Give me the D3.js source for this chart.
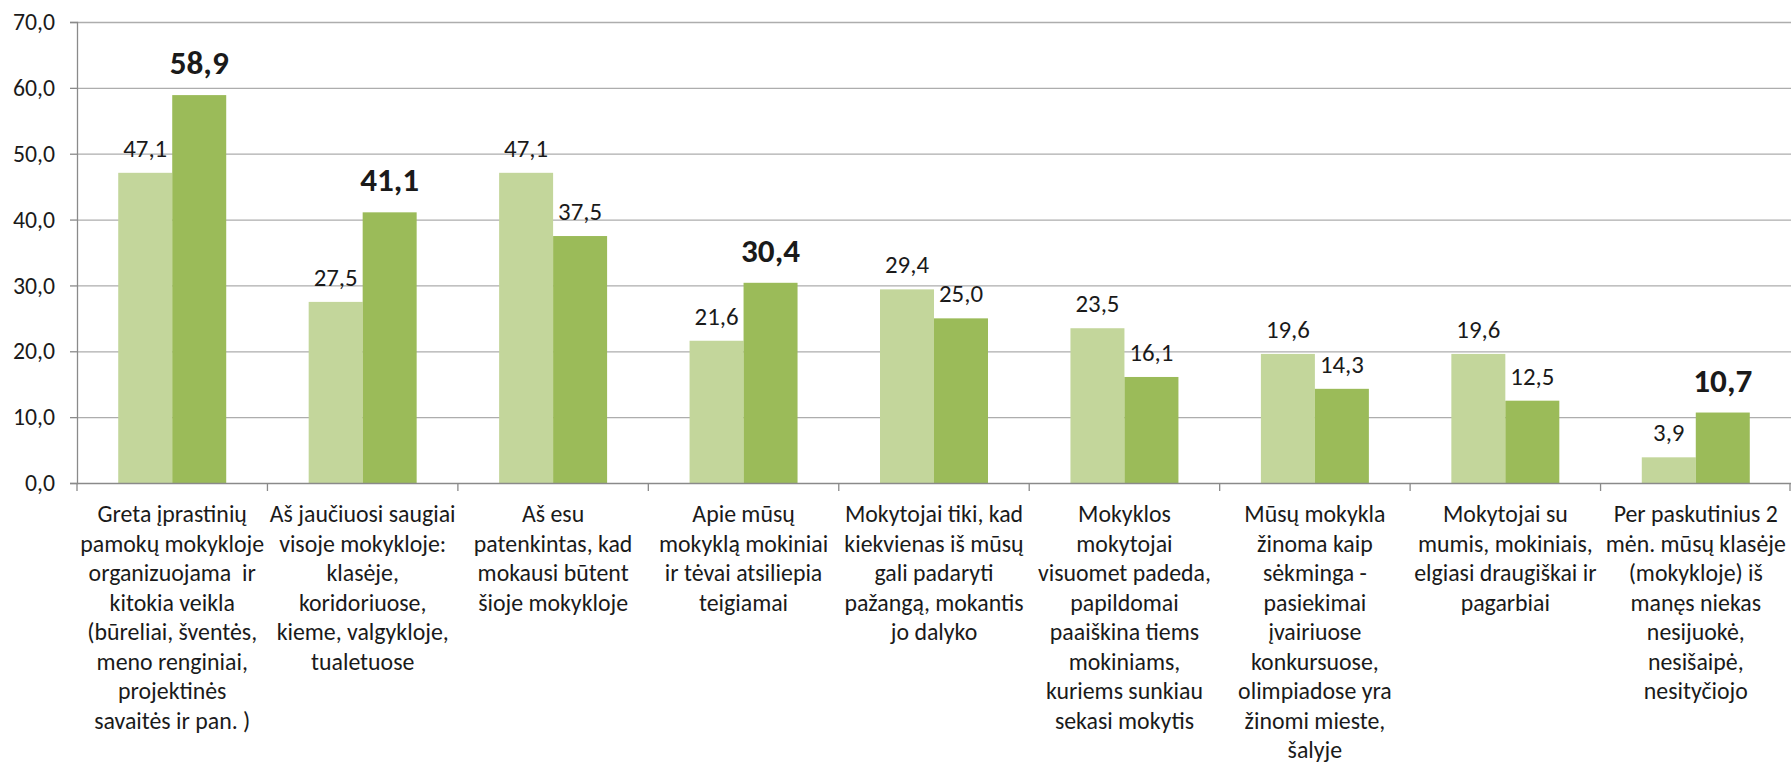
<!DOCTYPE html>
<html>
<head>
<meta charset="utf-8">
<script src="https://cdn.jsdelivr.net/npm/d3@7"></script>
<style>
  body { margin: 0; background: #fff; }
  text { font-family: Carlito, Calibri, Lato, sans-serif; fill: #1a1a1a; white-space: pre; }
</style>
</head>
<body>
<div id="chart"></div>
<script>
// categories, one entry per line of the wrapped axis label
var categories = [
    ["Greta įprastinių", "pamokų mokykloje", "organizuojama  ir", "kitokia veikla", "(būreliai, šventės,", "meno renginiai,", "projektinės", "savaitės ir pan. )"],
    ["Aš jaučiuosi saugiai", "visoje mokykloje:", "klasėje,", "koridoriuose,", "kieme, valgykloje,", "tualetuose"],
    ["Aš esu", "patenkintas, kad", "mokausi būtent", "šioje mokykloje"],
    ["Apie mūsų", "mokyklą mokiniai", "ir tėvai atsiliepia", "teigiamai"],
    ["Mokytojai tiki, kad", "kiekvienas iš mūsų", "gali padaryti", "pažangą, mokantis", "jo dalyko"],
    ["Mokyklos", "mokytojai", "visuomet padeda,", "papildomai", "paaiškina tiems", "mokiniams,", "kuriems sunkiau", "sekasi mokytis"],
    ["Mūsų mokykla", "žinoma kaip", "sėkminga -", "pasiekimai", "įvairiuose", "konkursuose,", "olimpiadose yra", "žinomi mieste,", "šalyje"],
    ["Mokytojai su", "mumis, mokiniais,", "elgiasi draugiškai ir", "pagarbiai"],
    ["Per paskutinius 2", "mėn. mūsų klasėje", "(mokykloje) iš", "manęs niekas", "nesijuokė,", "nesišaipė,", "nesityčiojo"]
];
var seriesA = [47.1, 27.5, 47.1, 21.6, 29.4, 23.5, 19.6, 19.6, 3.9];
var seriesB = [58.9, 41.1, 37.5, 30.4, 25.0, 16.1, 14.3, 12.5, 10.7];
var yTicks = [0, 10, 20, 30, 40, 50, 60, 70];

var colors = ["#c3d69b", "#9bbb59"];

var W = 1792, H = 764;
var margin = {top: 22, right: 1, bottom: 281, left: 77},
    width = W - margin.left - margin.right,
    height = H - margin.top - margin.bottom;

var fmt = function (v) { return v.toFixed(1).replace(".", ","); };

var root = d3.select("#chart")
    .append("svg")
    .attr("width", W)
    .attr("height", H);

// pick a font size so a sample string gets the width it has in the picture
function fitSize(sample, target, weight) {
    var t = root.append("text")
        .style("font-size", "100px")
        .style("font-weight", weight)
        .text(sample);
    var w = t.node().getComputedTextLength();
    t.remove();
    return 100 * target / w;
}
var labelSize = fitSize("pamokų mokykloje", 184, "normal");
var valueSize = fitSize("47,1", 44, "normal");
var boldSize = fitSize("58,9", 59, "bold");
var tickSize = fitSize("70,0", 42, "normal");

var svg = root.append("g")
    .attr("transform", "translate(" + margin.left + "," + margin.top + ")");

var x = d3.scaleBand()
    .domain(d3.range(categories.length))
    .range([0, width])
    .paddingInner(0.433)
    .paddingOuter(0.2165);

var xSub = d3.scaleBand()
    .domain([0, 1])
    .range([0, x.bandwidth()]);

var y = d3.scaleLinear()
    .domain([0, 70])
    .range([height, 0]);

// gridlines
svg.append("g")
    .selectAll("line")
    .data(yTicks.slice(1))
    .enter()
    .append("line")
    .attr("x1", 0)
    .attr("x2", width)
    .attr("y1", function (d) { return y(d) + 0.5; })
    .attr("y2", function (d) { return y(d) + 0.5; })
    .attr("stroke", "#adadad")
    .attr("stroke-width", 1.3);

// Y axis
var yAxis = svg.append("g")
    .call(d3.axisLeft(y).tickValues(yTicks).tickSize(7).tickPadding(15).tickFormat(fmt));
yAxis.selectAll("text").style("font-size", tickSize + "px");
yAxis.selectAll("line,path").attr("stroke", "#8a8a8a").attr("stroke-width", 1.3);

// bars
var groups = svg.selectAll(".cat")
    .data(categories.map(function (c, i) { return [seriesA[i], seriesB[i]]; }))
    .enter()
    .append("g")
    .attr("class", "cat")
    .attr("transform", function (d, i) { return "translate(" + x(i) + ",0)"; });

groups.selectAll("rect")
    .data(function (d) { return d; })
    .enter()
    .append("rect")
    .attr("x", function (d, j) { return xSub(j); })
    .attr("y", function (d) { return y(d); })
    .attr("width", xSub.bandwidth())
    .attr("height", function (d) { return height - y(d); })
    .attr("fill", function (d, j) { return colors[j]; });

// value labels: second series bold when it is higher
groups.selectAll(".val")
    .data(function (d) {
        return d.map(function (v, j) { return {v: v, j: j, bold: j === 1 && d[1] > d[0]}; });
    })
    .enter()
    .append("text")
    .attr("class", "val")
    .attr("x", function (d) { return xSub(d.j) + xSub.bandwidth() / 2; })
    .attr("y", function (d) { return y(d.v) - (d.bold ? 21 : 16); })
    .attr("text-anchor", "middle")
    .style("font-size", function (d) { return (d.bold ? boldSize : valueSize) + "px"; })
    .style("font-weight", function (d) { return d.bold ? "bold" : "normal"; })
    .text(function (d) { return fmt(d.v); });

// X axis
var step = x.step();
var xAxis = svg.append("g").attr("transform", "translate(0," + height + ")");
xAxis.append("line")
    .attr("x1", 0).attr("x2", width)
    .attr("y1", 0.5).attr("y2", 0.5)
    .attr("stroke", "#8a8a8a").attr("stroke-width", 1.3);
xAxis.selectAll(".tick")
    .data(d3.range(categories.length + 1))
    .enter()
    .append("line")
    .attr("x1", function (i) { return Math.min(i * step, width - 1); })
    .attr("x2", function (i) { return Math.min(i * step, width - 1); })
    .attr("y1", 0).attr("y2", 8)
    .attr("stroke", "#8a8a8a").attr("stroke-width", 1.3);

xAxis.selectAll(".lbl")
    .data(categories)
    .enter()
    .append("text")
    .attr("class", "lbl")
    .attr("text-anchor", "middle")
    .style("font-size", labelSize + "px")
    .attr("transform", function (d, i) { return "translate(" + (x(i) + x.bandwidth() / 2) + ",39)"; })
    .selectAll("tspan")
    .data(function (d) { return d; })
    .enter()
    .append("tspan")
    .attr("x", 0)
    .attr("y", function (d, k) { return k * 29.5; })
    .text(function (d) { return d; });
</script>
</body>
</html>
